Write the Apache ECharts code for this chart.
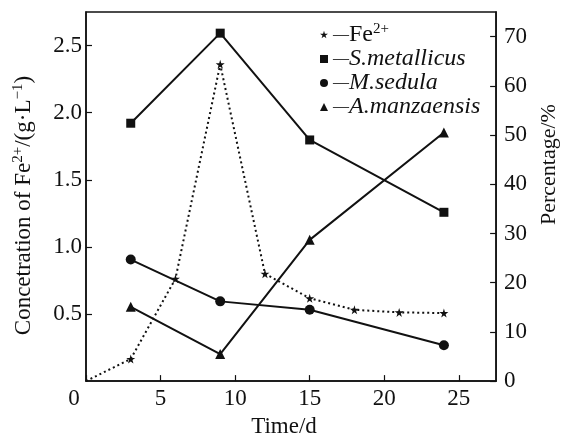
<!DOCTYPE html>
<html>
<head>
<meta charset="utf-8">
<script src="https://cdn.jsdelivr.net/npm/echarts@6/dist/echarts.min.js"></script>
<style>
  html, body { margin: 0; padding: 0; background: #fff; }
  #chart { width: 568px; height: 443px; }
</style>
</head>
<body>
<div id="chart"></div>
<script>
// Sampling days for the leaching experiment
const speciesDays = [3, 9, 15, 24];
const feDays = [0, 3, 6, 9, 12, 15, 18, 21, 24];

// Fe2+ concentration, g/L (left axis)
const feConc = [0, 0.165, 0.763, 2.36, 0.80, 0.617, 0.531, 0.512, 0.507];

// Community composition, % (right axis)
const sMetallicus = [52.4, 70.7, 49.0, 34.3];
const mSedula = [24.7, 16.2, 14.5, 7.3];
const aManzaensis = [15.1, 5.5, 28.7, 50.5];

// Axis ranges and tick steps
const xTicks = { min: 0, max: 27.5, step: 5 };
const leftTicks = { min: 0, max: 2.75, step: 0.5 };
const rightTicks = { min: 0, max: 75, step: 10 };

const FONT = '"Liberation Serif", "Times New Roman", serif';
const INK = '#111';
const STAR = 'path://M50,0 L61,35 L98,35 L68,57 L79,91 L50,70 L21,91 L32,57 L2,35 L39,35 Z';

const pair = (xs, ys) => xs.map((x, i) => [x, ys[i]]);

const feData = pair(feDays, feConc).map((p, i) =>
  i === 0 ? { value: p, symbol: 'none' } : p);

const legendNames = {
  'Fe2+': '{d|—}{n|Fe}{s|2+}',
  'S.metallicus': '{d|—}{i|S.metallicus}',
  'M.sedula': '{d|—}{i|M.sedula}',
  'A.manzaensis': '{d|—}{i|A.manzaensis}'
};

const chart = echarts.init(document.getElementById('chart'), null, { renderer: 'canvas' });

chart.setOption({
  animation: false,
  backgroundColor: '#fff',
  grid: {
    left: 86, right: 66.5, top: 12, bottom: 55,
    show: true, borderColor: INK, borderWidth: 1.5, backgroundColor: 'transparent'
  },
  legend: {
    orient: 'vertical',
    left: 315, top: 17,
    itemWidth: 8, itemHeight: 8, itemGap: 0,
    selectedMode: false,
    formatter: name => legendNames[name],
    textStyle: {
      fontFamily: FONT, fontSize: 24, color: INK, lineHeight: 24,
      rich: {
        d: { fontFamily: FONT, fontSize: 16, color: INK, lineHeight: 24 },
        n: { fontFamily: FONT, fontSize: 24, color: INK, lineHeight: 24 },
        i: { fontFamily: FONT, fontSize: 24, fontStyle: 'italic', color: INK, lineHeight: 24 },
        s: { fontFamily: FONT, fontSize: 15, color: INK, lineHeight: 24, padding: [0, 0, 10, 0] }
      }
    },
    data: [
      { name: 'Fe2+', icon: STAR },
      { name: 'S.metallicus', icon: 'rect' },
      { name: 'M.sedula', icon: 'circle' },
      { name: 'A.manzaensis', icon: 'triangle' }
    ]
  },
  xAxis: {
    type: 'value',
    min: xTicks.min, max: xTicks.max, interval: xTicks.step,
    name: 'Time/d',
    nameLocation: 'middle', nameGap: 32,
    nameTextStyle: { fontFamily: FONT, fontSize: 23, color: INK, padding: [0, 14, 0, 0] },
    axisLine: { lineStyle: { color: INK, width: 1.5 } },
    axisTick: { inside: true, length: 6, lineStyle: { color: INK, width: 1.2 } },
    splitLine: { show: false },
    axisLabel: {
      margin: 6,
      fontFamily: FONT, fontSize: 23, color: INK,
      showMaxLabel: false,
      formatter: v => v === 0 ? '{o|0}' : (v % xTicks.step === 0 ? String(v) : ''),
      rich: { o: { fontFamily: FONT, fontSize: 23, color: INK, padding: [0, 24, 0, 0] } }
    }
  },
  yAxis: [
    {
      type: 'value',
      min: leftTicks.min, max: leftTicks.max, interval: leftTicks.step,
      name: 'Concetration of Fe{s|2+}/(g·L{s|−1})',
      nameLocation: 'middle', nameGap: 50, nameRotate: 90,
      nameTextStyle: {
        fontFamily: FONT, fontSize: 23, color: INK,
        padding: [0, 18, 0, 0],
        rich: { s: { fontFamily: FONT, fontSize: 15, color: INK, padding: [0, 0, 10, 0] } }
      },
      axisLine: { show: true, lineStyle: { color: INK, width: 1.5 } },
      axisTick: { show: true, inside: true, length: 6, lineStyle: { color: INK, width: 1.2 } },
      splitLine: { show: false },
      axisLabel: {
        margin: 4,
        fontFamily: FONT, fontSize: 23, color: INK,
        showMinLabel: false, showMaxLabel: false,
        formatter: v => (v === 0 || v > 2.6) ? '' : v.toFixed(1)
      }
    },
    {
      type: 'value',
      position: 'right',
      min: rightTicks.min, max: rightTicks.max, interval: rightTicks.step,
      name: 'Percentage/%',
      nameLocation: 'middle', nameGap: 40, nameRotate: 90,
      nameTextStyle: {
        fontFamily: FONT, fontSize: 22, color: INK,
        padding: [0, 0, 0, 64]
      },
      axisLine: { show: true, lineStyle: { color: INK, width: 1.5 } },
      axisTick: { show: true, inside: true, length: 6, lineStyle: { color: INK, width: 1.2 } },
      splitLine: { show: false },
      axisLabel: {
        margin: 8,
        fontFamily: FONT, fontSize: 23, color: INK,
        showMaxLabel: false,
        formatter: v => (v % rightTicks.step === 0 ? String(v) : '')
      }
    }
  ],
  series: [
    {
      name: 'Fe2+', type: 'line', yAxisIndex: 0,
      data: feData,
      symbol: STAR, symbolSize: 9,
      itemStyle: { color: INK },
      lineStyle: { color: INK, width: 2, type: [2, 3] }
    },
    {
      name: 'S.metallicus', type: 'line', yAxisIndex: 1,
      data: pair(speciesDays, sMetallicus),
      symbol: 'rect', symbolSize: 9,
      itemStyle: { color: INK },
      lineStyle: { color: INK, width: 2 }
    },
    {
      name: 'M.sedula', type: 'line', yAxisIndex: 1,
      data: pair(speciesDays, mSedula),
      symbol: 'circle', symbolSize: 10,
      itemStyle: { color: INK },
      lineStyle: { color: INK, width: 2 }
    },
    {
      name: 'A.manzaensis', type: 'line', yAxisIndex: 1,
      data: pair(speciesDays, aManzaensis),
      symbol: 'triangle', symbolSize: 10,
      itemStyle: { color: INK },
      lineStyle: { color: INK, width: 2 }
    }
  ]
});
</script>
</body>
</html>
